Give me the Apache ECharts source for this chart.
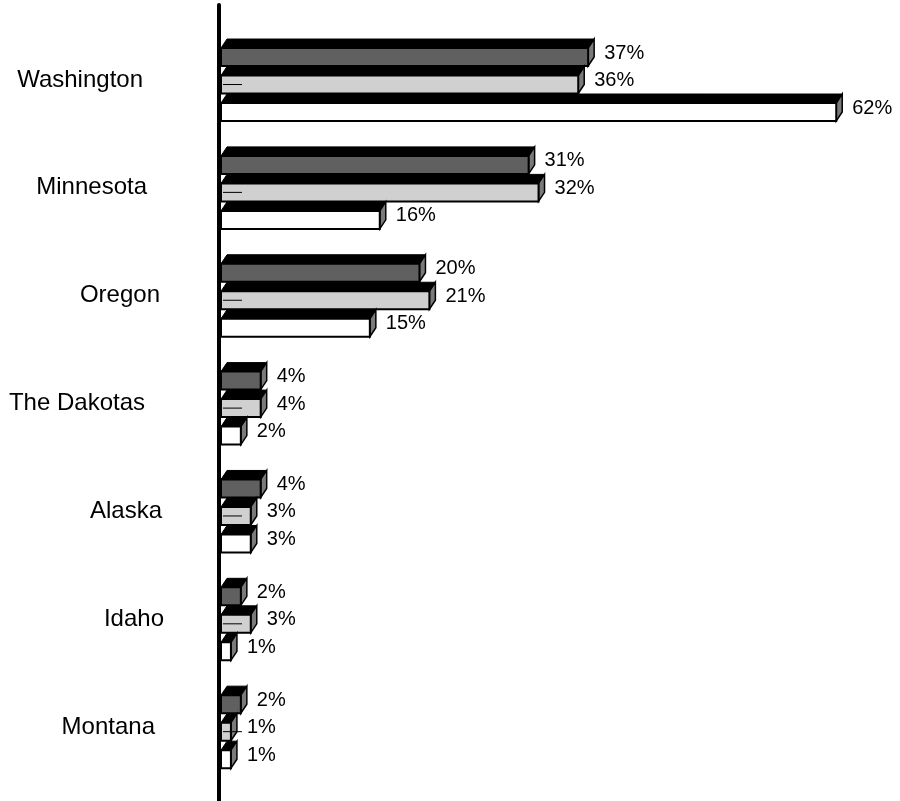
<!DOCTYPE html>
<html>
<head>
<meta charset="utf-8">
<script src="https://cdn.jsdelivr.net/npm/echarts@6/dist/echarts.min.js"></script>
<style>
  html, body {margin: 0; padding: 0; background: #fff;}
  #chart {width: 900px; height: 801px;}
</style>
</head>
<body>
<div id="chart"></div>
<script>
const categories = ["Washington", "Minnesota", "Oregon", "The Dakotas", "Alaska", "Idaho", "Montana"];
const darkValues = [37, 31, 20, 4, 4, 2, 2];
const lightValues = [36, 32, 21, 4, 3, 3, 1];
const whiteValues = [62, 16, 15, 2, 3, 1, 1];
// per-label right padding, the reference labels are not aligned
const labelPad = [22, 18, 5, 20, 3, 1, 10];

const FONT = "'Liberation Sans', Arial, sans-serif";
const FRONT = 18;   // front face height
const DX = 6;       // 3d depth, x
const DY = 9;       // 3d depth, y
const SLOT = 27.5;  // distance between the three bars of a group
const SHIFT = 4.6;  // group offset from category centre

function makeRender(slot, fill, withMark) {
  return function (params, api) {
    const val = api.value(0);
    const cat = api.value(1);
    const base = api.coord([0, cat]);
    const end = api.coord([val, cat]);
    const x0 = base[0];
    const x1 = end[0];
    const fc = base[1] + SHIFT + slot * SLOT;
    const top = fc - FRONT / 2;
    const bot = fc + FRONT / 2;
    const children = [
      {
        type: "polygon",
        shape: {points: [[x0, top], [x0 + DX, top - DY], [x1 + DX, top - DY], [x1, top]]},
        style: {fill: "#000", stroke: "#000", lineWidth: 1},
      },
      {
        type: "polygon",
        shape: {points: [[x1, top], [x1 + DX, top - DY], [x1 + DX, bot - DY], [x1, bot]]},
        style: {fill: "#7a7a7a", stroke: "#000", lineWidth: 1.5},
      },
      {
        type: "rect",
        shape: {x: x0, y: top, width: x1 - x0, height: FRONT},
        style: {fill, stroke: "#000", lineWidth: 2},
      },
    ];
    if (withMark) {
      children.push({
        type: "line",
        shape: {x1: x0 + 2, y1: fc, x2: x0 + 21, y2: fc},
        style: {stroke: "#000", lineWidth: 1},
      });
    }
    children.push({
      type: "text",
      style: {
        x: x1 + 16,
        y: fc - 4,
        text: val + "%",
        fill: "#000",
        fontSize: 20,
        fontFamily: FONT,
        align: "left",
        verticalAlign: "middle",
      },
    });
    return {type: "group", children};
  };
}

const rich = {};
categories.forEach((c, i) => {
  rich["c" + i] = {
    fontSize: 24,
    fontFamily: FONT,
    color: "#000",
    padding: [0, labelPad[i], 0, 0],
  };
});

const toData = (vals) => vals.map((v, i) => [v, i]);

const chart = echarts.init(document.getElementById("chart"), null, {renderer: "canvas"});
chart.setOption({
  animation: false,
  backgroundColor: "#fff",
  grid: [
    {left: 221, right: 34, top: 26, height: 755},
    {left: 219, width: 10, top: 5, bottom: 0},
  ],
  xAxis: [
    {type: "value", gridIndex: 0, min: 0, max: 65, show: false},
    {type: "value", gridIndex: 1, show: false},
  ],
  yAxis: [
    {
      type: "category",
      gridIndex: 0,
      inverse: true,
      data: categories,
      axisLine: {show: false},
      axisTick: {show: false},
      axisLabel: {
        margin: 56,
        align: "right",
        formatter: (v, i) => "{c" + i + "|" + v + "}",
        rich,
      },
    },
    {
      type: "value",
      gridIndex: 1,
      axisLine: {show: true, lineStyle: {color: "#000", width: 4}},
      axisTick: {show: false},
      axisLabel: {show: false},
      splitLine: {show: false},
    },
  ],
  series: [
    {type: "custom", xAxisIndex: 0, yAxisIndex: 0, renderItem: makeRender(-1, "#606060", false), data: toData(darkValues), encode: {x: 0, y: 1}, z: 3},
    {type: "custom", xAxisIndex: 0, yAxisIndex: 0, renderItem: makeRender(0, "#d0d0d0", true), data: toData(lightValues), encode: {x: 0, y: 1}, z: 4},
    {type: "custom", xAxisIndex: 0, yAxisIndex: 0, renderItem: makeRender(1, "#ffffff", false), data: toData(whiteValues), encode: {x: 0, y: 1}, z: 5},
  ],
});
</script>
</body>
</html>
